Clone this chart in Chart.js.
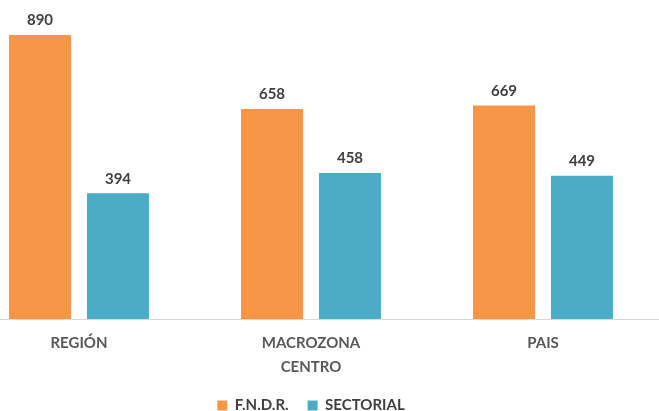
<!DOCTYPE html>
<html>
<head>
<meta charset="utf-8">
<script src="https://cdn.jsdelivr.net/npm/chart.js@4.4.0/dist/chart.umd.min.js"></script>
<style>
  html, body { margin: 0; padding: 0; background: #fff; overflow: hidden; }
  #wrap { position: absolute; left: -37px; top: 0; width: 696px; height: 411px; }
</style>
</head>
<body>
<div id="wrap"><canvas id="chart"></canvas></div>
<script>
// categories and series
const categories = ["REGIÓN", ["MACROZONA", "CENTRO"], "PAIS"];
const fndr = [890, 658, 669];
const sectorial = [394, 458, 449];

// draws the value above each bar
const valueLabels = {
  id: "valueLabels",
  afterDatasetsDraw(chart) {
    const ctx = chart.ctx;
    ctx.save();
    ctx.font = "bold 15px Lato, sans-serif";
    ctx.fillStyle = "#404040";
    ctx.textAlign = "center";
    ctx.textBaseline = "bottom";
    chart.data.datasets.forEach((ds, i) => {
      chart.getDatasetMeta(i).data.forEach((bar, j) => {
        ctx.fillText(ds.data[j], bar.x, bar.y - 7);
      });
    });
    ctx.restore();
  },
};

const ctx = document.getElementById("chart").getContext("2d");
new Chart(ctx, {
  type: "bar",
  data: {
    labels: categories,
    datasets: [
      {
        label: "F.N.D.R.",
        data: fndr,
        backgroundColor: "#F79646",
        categoryPercentage: 0.672,
        barPercentage: 0.795,
      },
      {
        label: "SECTORIAL",
        data: sectorial,
        backgroundColor: "#4BACC6",
        categoryPercentage: 0.672,
        barPercentage: 0.795,
      },
    ],
  },
  options: {
    animation: false,
    responsive: true,
    maintainAspectRatio: false,
    layout: { padding: { top: 0, bottom: -12, left: 0, right: 0 } },
    plugins: {
      tooltip: { enabled: false },
      legend: {
        position: "bottom",
        labels: {
          color: "#404040",
          boxWidth: 10,
          boxHeight: 10,
          padding: 19,
          font: { size: 15, weight: "bold", family: "Lato, sans-serif" },
        },
      },
    },
    scales: {
      x: {
        grid: { display: false, drawTicks: false },
        border: { display: true, color: "#d9d9d9", width: 1 },
        ticks: {
          color: "#595959",
          padding: 12,
          font: { size: 15, weight: "bold", family: "Lato, sans-serif", lineHeight: 1.6 },
        },
        afterFit(scale) {
          scale.height = 60;
        },
      },
      y: {
        display: false,
        min: 0,
        max: 1000,
      },
    },
  },
  plugins: [valueLabels],
});
</script>
</body>
</html>
